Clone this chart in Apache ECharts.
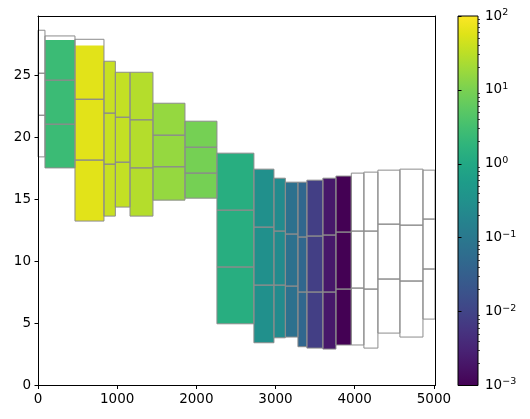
<!DOCTYPE html>
<html><head><meta charset="utf-8">
<script src="https://cdn.jsdelivr.net/npm/echarts@6/dist/echarts.min.js"></script>
<style>html,body{margin:0;padding:0;background:#fff}#c{width:530px;height:419px}</style>
</head><body><div id="c"></div>
<script>
// ---- data ----
const xEdges     = [0, 88, 467, 833, 977, 1162, 1452, 1856, 2260, 2727, 2980, 3124, 3283, 3396, 3598, 3763, 3957, 4116, 4293, 4571, 4862, 5014];
const cellTop    = [28.67, 28.21, 27.94, 26.17, 25.28, 25.28, 22.78, 21.33, 18.75, 17.46, 16.73, 16.41, 16.41, 16.57, 16.73, 16.90, 17.14, 17.22, 17.38, 17.46, 17.38];
const cellUpper  = [25.20, 24.64, 23.10, 21.98, 21.65, 21.44, 20.20, 19.23, 14.15, 12.78, 12.46, 12.22, 11.98, 12.06, 12.14, 12.38, 12.46, 12.46, 13.02, 12.94, 13.43];
const cellLower  = [21.81, 21.09, 18.19, 17.86, 18.02, 17.56, 17.65, 17.14, 9.56, 8.10, 8.10, 8.02, 7.54, 7.54, 7.54, 7.78, 7.86, 7.78, 8.59, 8.43, 9.40];
const cellBottom = [18.45, 17.56, 13.27, 13.67, 14.40, 13.67, 14.96, 15.12, 4.98, 3.45, 3.85, 3.91, 3.13, 3.02, 2.94, 3.27, 3.27, 3.02, 4.23, 3.91, 5.36];
const fillTop    = [null, 27.89, 27.43, 26.17, 25.28, 25.28, 22.78, 21.33, 18.75, 17.46, 16.73, 16.41, 16.41, 16.57, 16.73, 16.90, null, null, null, null, null];
const cellValues = [null, 2.5, 60, 38, 35, 27, 16, 9, 1.33, 0.30, 0.24, 0.071, 0.045, 0.0084, 0.0021, 0.001, null, null, null, null, null];
const xTicks  = [0, 1000, 2000, 3000, 4000, 5000];
const yTicks  = [0, 5, 10, 15, 20, 25];
const cbTicks = [0.001, 0.01, 0.1, 1, 10, 100];
const yMax = 29.82;

// ---- viridis colormap ----
const viridis = ['#440154','#471365','#482475','#463480','#414487','#3b528b','#355f8d','#2f6c8e','#2a788e','#25848e','#21918c','#1e9c89','#22a884','#2fb47c','#44bf70','#5ec962','#7ad151','#9bd93c','#bddf26','#dfe318','#fde725'];
function hex2rgb(h){return [parseInt(h.slice(1,3),16),parseInt(h.slice(3,5),16),parseInt(h.slice(5,7),16)];}
function viridisAt(t){
  t=Math.max(0,Math.min(1,t)); const f=t*(viridis.length-1); const i=Math.min(Math.floor(f),viridis.length-2); const r=f-i;
  const a=hex2rgb(viridis[i]), b=hex2rgb(viridis[i+1]);
  return 'rgb('+a.map((v,k)=>Math.round(v+(b[k]-v)*r)).join(',')+')';
}
const cbMin = cbTicks[0], cbMax = cbTicks[cbTicks.length-1];
function colorFor(v){ return viridisAt((Math.log10(v)-Math.log10(cbMin))/(Math.log10(cbMax)-Math.log10(cbMin))); }

const rows = cellTop.map((t,i)=>[xEdges[i], xEdges[i+1], t, cellUpper[i], cellLower[i], cellBottom[i],
  fillTop[i]==null ? t : fillTop[i], cellValues[i]==null ? 0 : cellValues[i]]);

const minorTicks = [];
for (let e=-3; e<2; e++) for (let m=2; m<10; m++) minorTicks.push(m*Math.pow(10,e));

const FONT = 'DejaVu Sans', FS = 13.5;
function plain(v){ return String(v); }
function cbLabel(v){ const e=Math.round(Math.log10(v)); return '{b|10}{s|'+String(e).replace('-','\u2212')+'}'; }

const chart = echarts.init(document.getElementById('c'), null, {renderer:'canvas'});
const edgeStyle = {color:'#000', width:1};
chart.setOption({
  animation:false,
  backgroundColor:'#fff',
  grid:[
    {left:38, right:95, top:16, bottom:33.5, containLabel:false},
    {left:458, width:20, top:16, bottom:33.5, containLabel:false}
  ],
  xAxis:[
    {type:'value', gridIndex:0, min:0, max:xEdges[xEdges.length-1], z:10,
     axisLine:{show:true, onZero:false, lineStyle:edgeStyle},
     axisTick:{show:true, inside:false, length:3.5, lineStyle:edgeStyle, customValues:xTicks},
     axisLabel:{customValues:xTicks, formatter:plain, margin:7, color:'#000', fontFamily:FONT, fontSize:FS},
     splitLine:{show:false}},
    {type:'value', gridIndex:0, position:'top', min:0, max:xEdges[xEdges.length-1], z:10,
     axisLine:{show:true, onZero:false, lineStyle:edgeStyle}, axisTick:{show:false}, axisLabel:{show:false}, splitLine:{show:false}},
    {type:'value', gridIndex:1, min:0, max:1, show:false}
  ],
  yAxis:[
    {type:'value', gridIndex:0, min:0, max:yMax, z:10,
     axisLine:{show:true, onZero:false, lineStyle:edgeStyle},
     axisTick:{show:true, inside:false, length:3.5, lineStyle:edgeStyle, customValues:yTicks},
     axisLabel:{customValues:yTicks, formatter:plain, margin:7, color:'#000', fontFamily:FONT, fontSize:FS},
     splitLine:{show:false}},
    {type:'value', gridIndex:0, position:'right', min:0, max:yMax, z:10,
     axisLine:{show:true, onZero:false, lineStyle:edgeStyle}, axisTick:{show:false}, axisLabel:{show:false}, splitLine:{show:false}},
    {type:'log', logBase:10, gridIndex:1, position:'right', min:cbMin, max:cbMax, z:10,
     axisLine:{show:false},
     axisTick:{show:true, inside:false, length:3.5, lineStyle:edgeStyle, customValues:cbTicks},
     axisLabel:{customValues:cbTicks, margin:7, color:'#000', formatter:cbLabel,
       rich:{b:{fontFamily:FONT, fontSize:FS, color:'#000'},
             s:{fontFamily:FONT, fontSize:9.5, color:'#000', verticalAlign:'bottom', padding:[0,0,7,0]}}},
     splitLine:{show:false}},
    {type:'log', logBase:10, gridIndex:1, position:'right', min:cbMin, max:cbMax, z:10,
     axisLine:{show:false},
     axisTick:{show:true, inside:false, length:2, lineStyle:{color:'#000', width:0.7}, customValues:minorTicks},
     axisLabel:{show:false}, splitLine:{show:false}}
  ],
  series:[
    {type:'custom', xAxisIndex:0, yAxisIndex:0, z:2, data:rows, clip:false,
     renderItem:function(params, api){
       const v = api.value(7);
       if (!(v > 0)) return {type:'group', children:[]};
       const l = api.coord([api.value(0), 0])[0], r = api.coord([api.value(1), 0])[0];
       const t = api.coord([0, api.value(6)])[1], b = api.coord([0, api.value(5)])[1];
       return {type:'rect', shape:{x:l, y:t, width:r-l, height:b-t}, style:{fill:colorFor(v)}};
     }},
    {type:'custom', xAxisIndex:0, yAxisIndex:0, z:3, data:rows, clip:false,
     renderItem:function(params, api){
       const l = api.coord([api.value(0), 0])[0], r = api.coord([api.value(1), 0])[0];
       const kids = [];
       for (let k=2; k<5; k++){
         const a = api.coord([0, api.value(k)])[1], b = api.coord([0, api.value(k+1)])[1];
         kids.push({type:'rect', shape:{x:l, y:a, width:r-l, height:b-a}, style:{fill:'none', stroke:'#8c8c8c', lineWidth:1}});
       }
       return {type:'group', children:kids};
     }},
    {type:'custom', xAxisIndex:2, yAxisIndex:2, z:2, data:[[0]], clip:false,
     renderItem:function(params, api){
       const p0 = api.coord([0, cbMax]), p1 = api.coord([1, cbMin]);
       const stops = viridis.map((c,i)=>({offset:1 - i/(viridis.length-1), color:c}));
       stops.sort((a,b)=>a.offset-b.offset);
       return {type:'rect', shape:{x:p0[0], y:p0[1], width:p1[0]-p0[0], height:p1[1]-p0[1]},
         style:{fill:new echarts.graphic.LinearGradient(0,0,0,1,stops), stroke:'#000', lineWidth:1}};
     }}
  ]
});
</script>
</body></html>
